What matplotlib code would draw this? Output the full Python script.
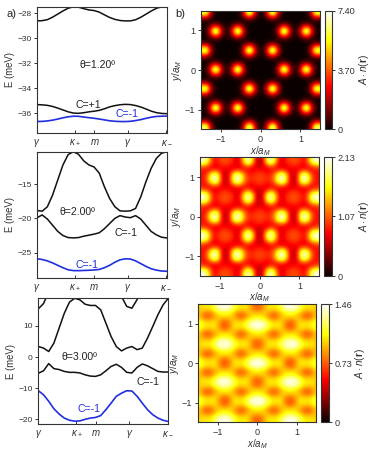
"""Moire band structures (a) and charge density maps (b) at three twist angles."""

import matplotlib
matplotlib.use("Agg")
import matplotlib.pyplot as plt
import numpy as np

plt.rcParams.update({
    "font.family": ["Liberation Sans", "DejaVu Sans"],
    "font.size": 6.6,
    "mathtext.fontset": "custom",
    "mathtext.rm": "Liberation Sans",
    "mathtext.it": "Liberation Sans:italic",
    "mathtext.bf": "Liberation Sans:bold",
    "axes.linewidth": 0.8,
    "axes.edgecolor": "#333333",
    "xtick.color": "#333333",
    "ytick.color": "#333333",
    "text.color": "#222222",
    "axes.labelcolor": "#333333",
})

W, H = 374, 450
BLUE = "#1f2fe0"
NOTE = 7.6

# sample positions along the path, shared by all the bands
PATH = [0.00, 0.04, 0.08, 0.12, 0.16, 0.20, 0.24, 0.28, 0.32, 0.36, 0.40, 0.44, 0.48,
        0.52, 0.56, 0.60, 0.64, 0.68, 0.72, 0.76, 0.80, 0.84, 0.88, 0.92, 0.96, 1.00]
PATH_TICKS = [0.0, 0.293, 0.442, 0.70, 0.995]
PATH_LABELS = [r"$\gamma$", r"$\kappa_+$", r"$m$", r"$\gamma$", r"$\kappa_-$"]

# theta = 1.20
E1_TOP = [-28.6, -28.58, -28.5, -28.3, -28.05, -27.8, -27.58, -27.47, -27.5, -27.62, -27.72, -27.77, -27.9,
          -28.12, -28.33, -28.48, -28.57, -28.6, -28.6, -28.5, -28.3, -28.05, -27.8, -27.58, -27.47, -27.47]
E1_MID = [-35.32, -35.34, -35.38, -35.47, -35.6, -35.75, -35.9, -36.0, -36.02, -35.97, -35.9, -35.85, -35.78,
          -35.65, -35.5, -35.4, -35.33, -35.3, -35.32, -35.4, -35.52, -35.68, -35.85, -35.97, -36.03, -36.05]
E1_LOW = [-36.67, -36.67, -36.63, -36.57, -36.48, -36.38, -36.3, -36.25, -36.26, -36.32, -36.37, -36.42, -36.48,
          -36.55, -36.62, -36.66, -36.68, -36.68, -36.66, -36.6, -36.52, -36.42, -36.33, -36.27, -36.25, -36.24]

# theta = 2.00
E2_TOP = [-18.85, -18.95, -18.3, -16.6, -14.4, -12.2, -10.7, -10.27, -10.65, -11.6, -12.2, -12.5, -13.4,
          -15.4, -17.1, -18.3, -18.9, -18.95, -18.9, -18.55, -16.85, -14.65, -12.7, -11.25, -10.5, -10.27]
E2_MID = [-19.9, -19.5, -20.1, -21.0, -21.9, -22.5, -22.8, -22.85, -22.8, -22.6, -22.45, -22.3, -22.1,
          -21.5, -20.75, -20.0, -19.6, -19.8, -19.9, -19.6, -20.1, -21.0, -21.9, -22.4, -22.75, -22.85]
E2_LOW = [-25.9, -26.0, -26.2, -26.5, -26.85, -27.2, -27.5, -27.62, -27.63, -27.6, -27.57, -27.53, -27.45,
          -27.2, -26.85, -26.4, -26.05, -25.9, -25.93, -26.2, -26.6, -27.0, -27.35, -27.55, -27.68, -27.72]

# theta = 3.00
E3_HIGH = [15.5, 17.2, 21, 25, 28, 30, 31, 32, 31, 30, 30, 30, 29,
           27, 25, 23, 19.5, 16.3, 15.7, 18.5, 22, 25, 27, 29, 31, 32]
E3_TOP = [3.4, 2.9, 1.8, 4.5, 9.3, 14.1, 17.7, 18.9, 18.4, 17.0, 16.6, 16.6, 15.2,
          10.9, 6.6, 3.4, 2.0, 2.9, 3.4, 2.4, 2.9, 6.1, 9.8, 13.6, 16.8, 18.9]
E3_MID = [-5.2, -4.4, -2.1, -3.7, -4.0, -4.6, -4.9, -4.9, -5.1, -5.7, -6.1, -6.2, -5.7,
          -4.4, -3.0, -2.3, -3.3, -4.9, -5.1, -3.3, -2.2, -2.8, -3.7, -4.6, -4.8, -4.8]
E3_LOW = [-10.8, -12.1, -14.2, -16.6, -18.3, -19.6, -20.3, -20.6, -20.5, -20.0, -19.6, -19.4, -18.8,
          -16.9, -14.8, -12.6, -11.6, -10.8, -10.9, -12.6, -14.8, -16.9, -18.5, -19.6, -20.3, -20.7]

# density, one mirrored quarter cell: rows y = 0..0.5, columns x = 0..1.5, both in steps of 0.1
N1 = [
    [0, 0, 0, 0.08, 1.0, 4.5, 7.4, 4.5, 1.0, 0.27, 1.75, 5.8, 7.1, 3.2, 0.67, 0.03],
    [0, 0, 0, 0.05, 0.6, 2.75, 4.5, 2.75, 0.6, 0.17, 1.07, 3.5, 4.3, 1.95, 0.4, 0.02],
    [0, 0, 0, 0.01, 0.14, 0.61, 1.0, 0.61, 0.14, 0.04, 0.24, 0.78, 0.96, 0.43, 0.09, 0],
    [0.01, 0.14, 0.61, 1.0, 0.61, 0.14, 0.01, 0, 0, 0, 0, 0, 0.04, 0.32, 0.88, 0.88],
    [0.05, 0.61, 2.75, 4.5, 2.75, 0.61, 0.05, 0, 0, 0, 0, 0.01, 0.2, 1.46, 4.0, 4.0],
    [0.08, 1.0, 4.5, 7.4, 4.5, 1.0, 0.08, 0, 0, 0, 0, 0.01, 0.33, 2.4, 6.5, 6.5],
]
N2 = [
    [1.0, 0.98, 0.9, 0.95, 1.3, 1.95, 2.1, 1.55, 0.75, 0.55, 1.0, 1.95, 2.1, 1.55, 0.95, 0.8],
    [0.95, 0.92, 0.85, 0.9, 1.2, 1.7, 1.9, 1.4, 0.75, 0.58, 0.95, 1.7, 1.85, 1.35, 0.88, 0.8],
    [0.85, 0.8, 0.72, 0.78, 0.85, 1.0, 1.05, 0.85, 0.7, 0.68, 0.78, 1.0, 1.05, 0.85, 0.78, 0.85],
    [0.62, 0.68, 0.85, 1.05, 0.88, 0.72, 0.68, 0.72, 0.8, 0.85, 0.8, 0.72, 0.72, 0.85, 1.05, 1.1],
    [0.52, 0.8, 1.45, 1.85, 1.4, 0.82, 0.68, 0.85, 0.95, 1.0, 0.95, 0.82, 0.82, 1.25, 1.75, 1.85],
    [0.48, 0.85, 1.7, 2.1, 1.6, 0.88, 0.65, 0.9, 1.0, 1.02, 1.0, 0.85, 0.85, 1.4, 2.0, 2.13],
]
N3 = [
    [1.46, 1.44, 1.34, 1.18, 1.05, 1.06, 1.05, 0.86, 0.72, 0.72, 0.86, 1.05, 1.06, 1.04, 1.08, 1.18],
    [1.36, 1.33, 1.22, 1.06, 0.96, 0.98, 1.0, 0.9, 0.78, 0.78, 0.9, 1.0, 0.98, 0.96, 1.02, 1.1],
    [1.1, 1.06, 0.98, 0.85, 0.76, 0.78, 0.92, 1.0, 0.98, 0.98, 1.0, 0.92, 0.8, 0.74, 0.8, 0.95],
    [0.98, 0.98, 0.98, 0.86, 0.77, 0.8, 0.93, 1.04, 1.1, 1.11, 1.04, 0.94, 0.82, 0.76, 0.82, 0.96],
    [0.78, 0.82, 0.95, 1.0, 0.98, 1.0, 1.1, 1.25, 1.34, 1.35, 1.3, 1.16, 1.0, 0.97, 1.0, 0.96],
    [0.72, 0.78, 0.94, 1.06, 1.05, 1.06, 1.2, 1.36, 1.44, 1.45, 1.4, 1.26, 1.1, 1.04, 1.06, 1.0],
]
NMAX = [7.40, 2.13, 1.46]
NMID = [3.70, 1.07, 0.73]


def px_axes(fig, x0, x1, y0, y1):
    """Axes from pixel edges, y counted from the top of the image."""
    return fig.add_axes([x0 / W, 1 - y1 / H, (x1 - x0) / W, (y1 - y0) / H])


def draw_bands(ax, bands, lows, ylim, yticks):
    for e in bands:
        ax.plot(PATH, e, color="#111111", lw=1.1)
    ax.plot(PATH, lows, color=BLUE, lw=1.2)
    ax.set_xlim(0, 1)
    ax.set_ylim(*ylim)
    ax.set_yticks(yticks)
    ax.set_yticklabels([str(t).replace("-", "\u2212") for t in yticks], fontsize=6)
    ax.set_xticks(PATH_TICKS)
    ax.set_xticklabels(PATH_LABELS, fontsize=7)
    ax.tick_params(axis="x", direction="in", length=2, width=0.7, pad=3)
    ax.tick_params(axis="y", direction="out", length=2.5, width=0.7, pad=1.5)
    ax.set_ylabel("E (meV)", labelpad=1.5, fontsize=6.9)


def draw_density(fig, quarter, vmax, vmid, box, cbox):
    full = np.pad(np.array(quarter, dtype=float), ((15, 10), (15, 0)), mode="reflect")
    ax = px_axes(fig, *box)
    im = ax.imshow(full, origin="lower", extent=(-1.5, 1.5, -1.5, 1.5), cmap="hot",
                   vmin=0, vmax=vmax, interpolation="bicubic", aspect="auto")
    ax.set_xticks([-1, 0, 1])
    ax.set_yticks([-1, 0, 1])
    ax.set_xticklabels(["\u22121", "0", "1"])
    ax.set_yticklabels(["\u22121", "0", "1"])
    ax.tick_params(length=2.5, width=0.7, pad=1.5)
    ax.set_xlabel(r"$x/a_M$", labelpad=0, fontsize=7)
    ax.set_ylabel(r"$y/a_M$", labelpad=1, fontsize=7)
    cax = px_axes(fig, *cbox)
    cb = fig.colorbar(im, cax=cax, ticks=[0, vmid, vmax])
    cb.ax.set_yticklabels(["0", f"{vmid:.2f}", f"{vmax:.2f}"], fontsize=6.6)
    cb.ax.tick_params(length=2.5, width=0.7, pad=1.5)
    cb.outline.set_linewidth(0.8)
    cb.set_label(r"$A\cdot n(\mathbf{r})$", labelpad=1, fontsize=7.2)


fig = plt.figure(figsize=(W / 100, H / 100), dpi=100)

ax1 = px_axes(fig, 37, 167, 6.7, 133)
draw_bands(ax1, [E1_TOP, E1_MID], E1_LOW, (-37.6, -27.46), [-28, -30, -32, -34, -36])
ax1.text(0.33, -32.4, "\u03b8=1.20\u00ba", fontsize=NOTE)
ax1.text(0.30, -35.6, "C=+1", fontsize=NOTE)
ax1.text(0.60, -36.35, "C=-1", fontsize=NOTE, color=BLUE)

ax2 = px_axes(fig, 37, 166.7, 151.7, 278)
draw_bands(ax2, [E2_TOP, E2_MID], E2_LOW, (-28.7, -10.27), [-15, -20, -25])
ax2.text(0.172, -19.44, "\u03b8=2.00\u00ba", fontsize=NOTE)
ax2.text(0.60, -22.56, "C=-1", fontsize=NOTE)
ax2.text(0.30, -27.2, "C=-1", fontsize=NOTE, color=BLUE)

ax3 = px_axes(fig, 38.3, 168.3, 298.3, 424.3)
draw_bands(ax3, [E3_HIGH, E3_TOP, E3_MID], E3_LOW, (-21.6, 18.9), [10, 0, -10, -20])
ax3.text(0.175, -1.07, "\u03b8=3.00\u00ba", fontsize=NOTE)
ax3.text(0.757, -9.1, "C=-1", fontsize=NOTE)
ax3.text(0.30, -17.5, "C=-1", fontsize=NOTE, color=BLUE)

draw_density(fig, N1, NMAX[0], NMID[0], (201, 320.3, 10.7, 129.3), (325.3, 332.3, 10.7, 129.3))
draw_density(fig, N2, NMAX[1], NMID[1], (200.3, 319.3, 157.3, 276), (324.3, 331.7, 157.3, 276))
draw_density(fig, N3, NMAX[2], NMID[2], (198, 316.3, 304.3, 422.3), (321.3, 328.7, 304.3, 422.3))

fig.text(6 / W, 1 - 17 / H, "a)", fontsize=8)
fig.text(175 / W, 1 - 17 / H, "b)", fontsize=8)

fig.savefig("out.png", dpi=100)
